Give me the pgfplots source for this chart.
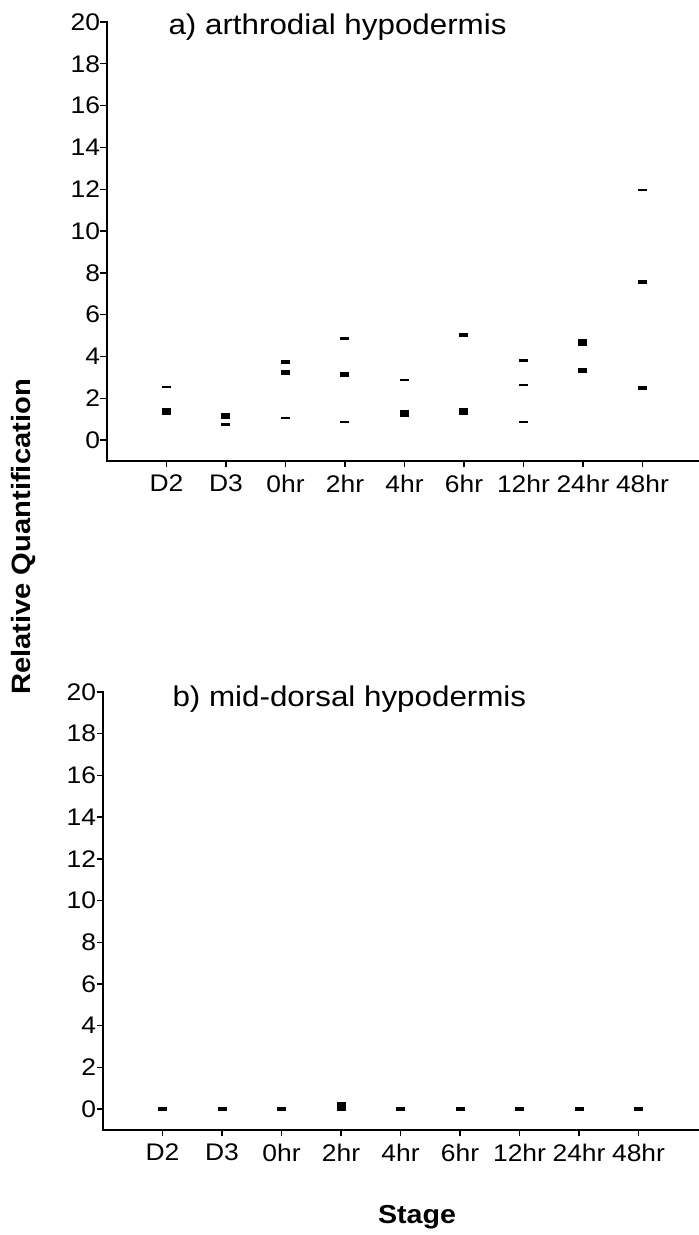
\documentclass[border=0pt]{standalone}
\usepackage{fontspec}
\setmainfont{Liberation Sans}[FakeStretch=1.1]
\usepackage{pgfplots}
\pgfplotsset{compat=1.18}
\pgfplotsset{
  panel/.style={
    scale only axis,
    axis x line*=bottom, axis y line*=left,
    axis line style={line width=1.6pt, line cap=rect},
    every tick/.style={line width=1.4pt, black},
    tick align=outside, major tick length=6.5pt,
    ymin=-1, ymax=20, ytick={0,2,...,20},
    xmin=-1, xtick={0,...,8},
    xticklabels={D2,D3,0hr,2hr,4hr,6hr,12hr,24hr,48hr},
    /pgf/number format/assume math mode=true,
    tick label style={font=\fontsize{24}{28}\selectfont},
    yticklabel style={xshift=3pt},
    xticklabel style={yshift=-4pt},
    clip=false,
  },
  thin/.style={only marks, mark=-, mark size=4.5pt, mark options={line width=2.2pt, line cap=butt}},
  med/.style={only marks, mark=-, mark size=4.5pt, mark options={line width=4.5pt, line cap=butt}},
  big/.style={only marks, mark=-, mark size=4.5pt, mark options={line width=6.5pt, line cap=butt}},
}
\begin{document}
\begin{tikzpicture}
\useasboundingbox (0pt,0pt) rectangle (699pt,1235pt);
% top panel: a) arthrodial hypodermis
\begin{axis}[panel, at={(107pt,774pt)}, anchor=south west, width=592pt, height=439pt, xmax=8.95]
\addplot[thin] coordinates {(0,2.55) (1,0.75) (2,1.07) (3,4.86) (3,0.85) (4,2.87) (6,3.81) (6,2.65) (6,0.85) (8,11.95)};
\addplot[med] coordinates {(2,3.73) (2,3.24) (3,3.13) (5,5.02) (7,3.33) (8,7.56) (8,2.49)};
\addplot[big] coordinates {(0,1.36) (1,1.15) (4,1.28) (5,1.37) (7,4.66)};
\end{axis}
\node[anchor=base west, font=\fontsize{28.5}{34}\selectfont] at (165pt,1200pt) {a) arthrodial hypodermis};
% bottom panel: b) mid-dorsal hypodermis
\begin{axis}[panel, at={(103pt,105pt)}, anchor=south west, width=595pt, height=438pt, xmax=9]
\addplot[med] coordinates {(0,0) (1,0) (2,0) (4,0) (5,0) (6,0) (7,0) (8,0)};
\addplot[only marks, mark=-, mark size=4.5pt, mark options={line width=9pt, line cap=butt}] coordinates {(3,0.12)};
\end{axis}
\node[anchor=base west, font=\fontsize{28.5}{34}\selectfont] at (169pt,528pt) {b) mid-dorsal hypodermis};
\node[anchor=base, font=\bfseries\fontsize{26}{31}\selectfont] at (417pt,11pt) {Stage};
\node[rotate=90, font=\bfseries\fontsize{26.5}{31}\selectfont] at (24pt,698pt) {Relative Quantification};
\end{tikzpicture}
\end{document}
